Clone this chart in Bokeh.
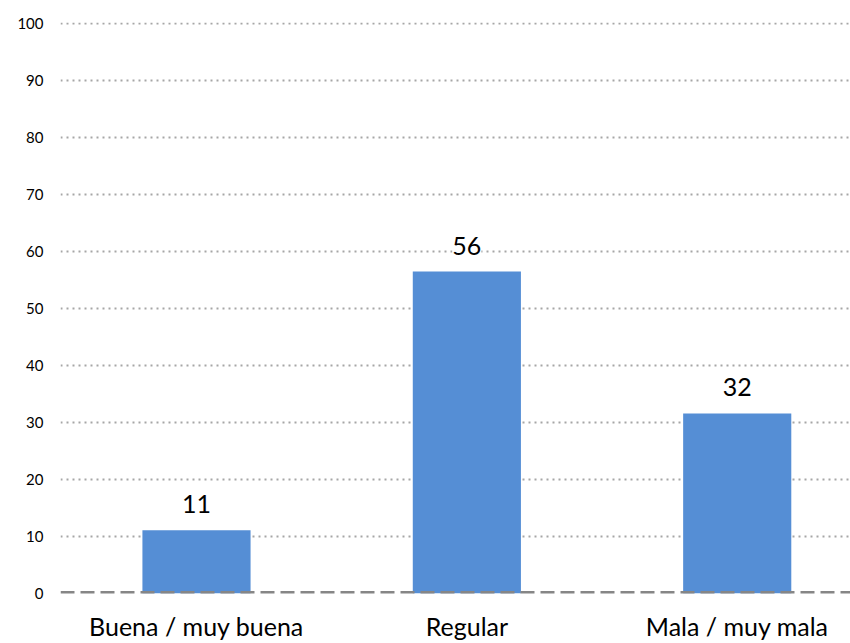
from bokeh.plotting import figure
from bokeh.models import ColumnDataSource, Range1d, FixedTicker, Span, LabelSet
from bokeh.core.properties import value
from bokeh.embed import file_html
from bokeh.resources import INLINE

categories = ["Buena / muy buena", "Regular", "Mala / muy mala"]
values = [11.1, 56.5, 31.6]
value_labels = ["11", "56", "32"]
y_ticks = [0, 10, 20, 30, 40, 50, 60, 70, 80, 90, 100]

xs = list(range(len(categories)))
source = ColumnDataSource(data=dict(x=xs, top=values, label=value_labels))

p = figure(
    frame_width=790, frame_height=571,
    min_border_left=60, min_border_right=0, min_border_top=22, min_border_bottom=50,
    x_range=Range1d(-0.503, 2.419), y_range=Range1d(0, 100.2),
    output_backend="svg", toolbar_location=None,
)
p.outline_line_color = None
p.background_fill_color = "white"
p.border_fill_color = "white"

p.vbar(x="x", top="top", bottom=0, width=0.4, source=source,
       fill_color="#558ED5", line_color=None)

labels = LabelSet(x="x", y="top", text="label", source=source,
                  text_align="center", text_baseline="middle",
                  y_offset=26, text_font=value("Lato"), text_font_size=value("25px"),
                  text_color="#000000",
                  background_fill_color="white")
p.add_layout(labels)

p.add_layout(Span(location=0, dimension="width", line_color="#868686",
                  line_width=5, line_dash="14 6"))

p.xgrid.grid_line_color = None
p.ygrid.ticker = FixedTicker(ticks=y_ticks[1:])
p.ygrid.grid_line_color = "#A6A6A6"
p.ygrid.grid_line_width = 2
p.ygrid.grid_line_dash = "2 4"

p.yaxis.ticker = FixedTicker(ticks=y_ticks)
p.yaxis.axis_line_color = None
p.yaxis.major_tick_line_color = None
p.yaxis.minor_tick_line_color = None
p.yaxis.major_label_standoff = 11
p.yaxis.major_label_text_font = "Lato"
p.yaxis.major_label_text_font_size = "15px"
p.yaxis.major_label_text_color = "#000000"

p.xaxis.ticker = FixedTicker(ticks=xs)
p.xaxis.major_label_overrides = {i: c for i, c in zip(xs, categories)}
p.xaxis.axis_line_color = None
p.xaxis.major_tick_line_color = None
p.xaxis.minor_tick_line_color = None
p.xaxis.major_label_standoff = 11
p.xaxis.major_label_text_font = "Lato"
p.xaxis.major_label_text_font_size = "25px"
p.xaxis.major_label_text_color = "#000000"

open("out.html", "w").write(file_html(p, INLINE))
